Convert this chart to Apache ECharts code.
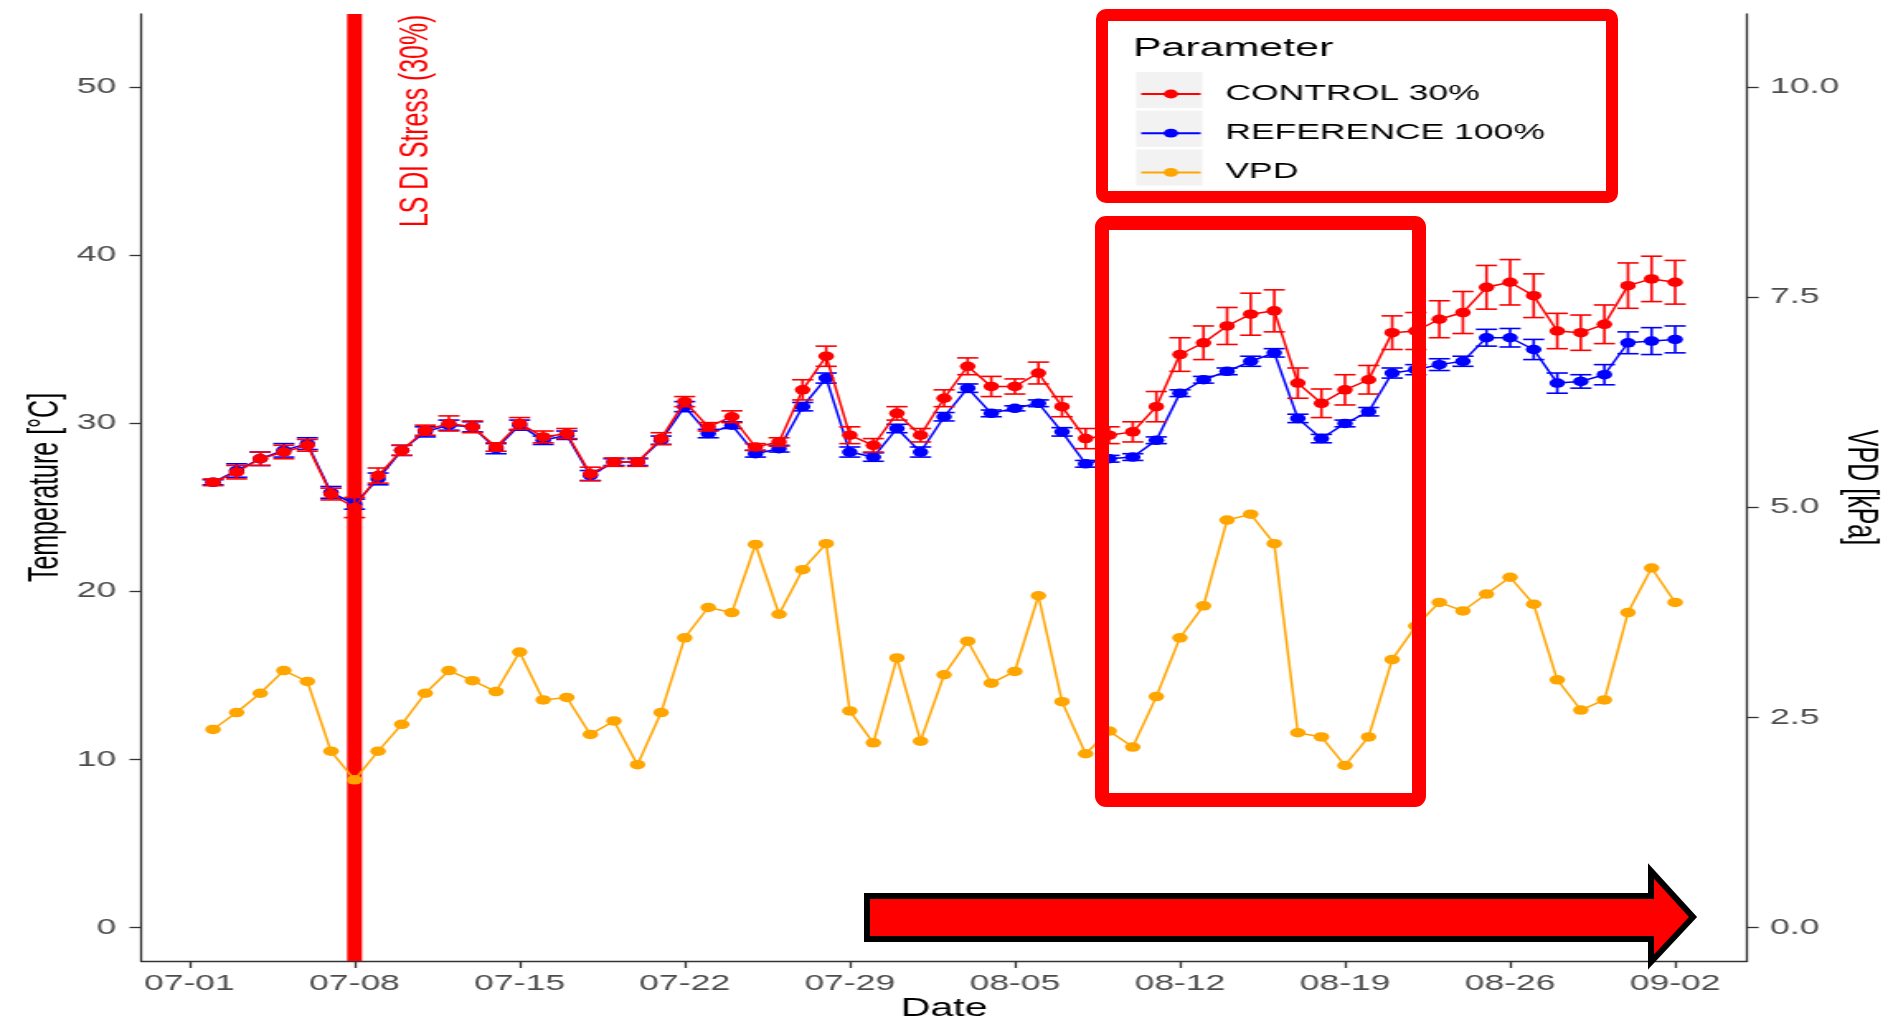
<!DOCTYPE html>
<html>
<head>
<meta charset="utf-8">
<script src="https://cdn.jsdelivr.net/npm/echarts@6/dist/echarts.min.js"></script>
<style>
  html, body { margin: 0; padding: 0; background: #ffffff; overflow: hidden; }
  #stage { position: relative; width: 1888px; height: 1028px; }
  /* the plot is laid out narrow and then widened, as in the exported figure */
  #chart { position: absolute; left: 0; top: 0; width: 1144px; height: 1028px;
           transform: scaleX(1.65035); transform-origin: 0 0; }
  #marks { position: absolute; left: 0; top: 0; width: 1888px; height: 1028px; pointer-events: none; }
</style>
</head>
<body>
<div id="stage">
  <div id="chart"></div>
  <div id="marks"></div>
</div>
<script>
// ---- data -----------------------------------------------------------------
const dates = [
  '07-02','07-03','07-04','07-05','07-06','07-07','07-08','07-09','07-10','07-11',
  '07-12','07-13','07-14','07-15','07-16','07-17','07-18','07-19','07-20','07-21',
  '07-22','07-23','07-24','07-25','07-26','07-27','07-28','07-29','07-30','07-31',
  '08-01','08-02','08-03','08-04','08-05','08-06','08-07','08-08','08-09','08-10',
  '08-11','08-12','08-13','08-14','08-15','08-16','08-17','08-18','08-19','08-20',
  '08-21','08-22','08-23','08-24','08-25','08-26','08-27','08-28','08-29','08-30',
  '08-31','09-01','09-02'
];

// leaf temperature, CONTROL 30% (mean and standard error, °C)
const controlMean = [
  26.5, 27.1, 27.9, 28.3, 28.7, 25.8, 25.0, 26.9, 28.4, 29.6,
  30.0, 29.8, 28.6, 30.0, 29.2, 29.4, 27.0, 27.7, 27.7, 29.1,
  31.3, 29.8, 30.4, 28.6, 28.9, 32.0, 34.0, 29.3, 28.7, 30.6,
  29.3, 31.5, 33.4, 32.2, 32.2, 33.0, 31.0, 29.1, 29.3, 29.5,
  31.0, 34.1, 34.8, 35.8, 36.5, 36.7, 32.4, 31.2, 32.0, 32.6,
  35.4, 35.5, 36.2, 36.6, 38.1, 38.4, 37.6, 35.5, 35.4, 35.9,
  38.2, 38.6, 38.4
];
const controlSE = [
  0.20, 0.40, 0.40, 0.40, 0.35, 0.35, 0.60, 0.45, 0.30, 0.30,
  0.45, 0.35, 0.25, 0.35, 0.35, 0.30, 0.40, 0.25, 0.25, 0.35,
  0.30, 0.25, 0.35, 0.20, 0.25, 0.60, 0.60, 0.50, 0.40, 0.40,
  0.40, 0.50, 0.50, 0.60, 0.45, 0.65, 0.60, 0.60, 0.50, 0.60,
  0.90, 1.00, 1.00, 1.10, 1.25, 1.25, 0.90, 0.85, 0.90, 0.85,
  1.00, 1.10, 1.10, 1.25, 1.30, 1.35, 1.30, 1.05, 1.05, 1.15,
  1.35, 1.35, 1.30
];

// leaf temperature, REFERENCE 100%
const referenceMean = [
  26.5, 27.2, 27.9, 28.4, 28.8, 25.9, 25.2, 26.7, 28.4, 29.5,
  29.9, 29.8, 28.5, 29.9, 29.0, 29.3, 26.9, 27.7, 27.7, 29.0,
  31.0, 29.4, 29.9, 28.2, 28.5, 31.0, 32.7, 28.3, 28.0, 29.7,
  28.3, 30.4, 32.1, 30.6, 30.9, 31.2, 29.5, 27.6, 27.9, 28.0,
  29.0, 31.8, 32.6, 33.1, 33.7, 34.2, 30.3, 29.1, 30.0, 30.7,
  33.0, 33.2, 33.5, 33.7, 35.1, 35.1, 34.4, 32.4, 32.5, 32.9,
  34.8, 34.9, 35.0
];
const referenceSE = [
  0.15, 0.40, 0.40, 0.40, 0.35, 0.35, 0.30, 0.35, 0.30, 0.30,
  0.30, 0.30, 0.30, 0.30, 0.25, 0.25, 0.30, 0.20, 0.20, 0.25,
  0.30, 0.25, 0.20, 0.20, 0.20, 0.25, 0.30, 0.30, 0.25, 0.25,
  0.30, 0.25, 0.25, 0.20, 0.15, 0.20, 0.25, 0.20, 0.20, 0.20,
  0.20, 0.20, 0.20, 0.20, 0.30, 0.25, 0.25, 0.25, 0.20, 0.25,
  0.30, 0.30, 0.35, 0.30, 0.50, 0.55, 0.60, 0.60, 0.40, 0.60,
  0.65, 0.80, 0.80
];

// vapour pressure deficit, kPa (right axis)
const vpd = [
  2.36, 2.56, 2.79, 3.06, 2.93, 2.10, 1.76, 2.10, 2.42, 2.79,
  3.06, 2.94, 2.81, 3.28, 2.71, 2.74, 2.30, 2.46, 1.94, 2.56,
  3.45, 3.81, 3.75, 4.56, 3.73, 4.26, 4.57, 2.58, 2.20, 3.21,
  2.22, 3.01, 3.41, 2.91, 3.05, 3.95, 2.69, 2.07, 2.34, 2.15,
  2.75, 3.45, 3.83, 4.85, 4.92, 4.57, 2.32, 2.27, 1.93, 2.27,
  3.19, 3.59, 3.87, 3.77, 3.97, 4.17, 3.85, 2.95, 2.59, 2.71,
  3.75, 4.28, 3.87
];

const dateTicks = ['07-01','07-08','07-15','07-22','07-29','08-05','08-12','08-19','08-26','09-02'];
const tempTicks = [0, 10, 20, 30, 40, 50];
const vpdTicks = [0, 2.5, 5, 7.5, 10];

const stressDates = ['07-08'];
const stressLabel = 'LS DI Stress (30%)';
const seriesNames = ['CONTROL 30%', 'REFERENCE 100%', 'VPD'];

// ---- helpers --------------------------------------------------------------
const FONT = '"Liberation Sans", Arial, Helvetica, sans-serif';
const RED = '#FF0000', BLUE = '#0000FF', ORANGE = '#FFA500';

function dayOf(md) {
  const [m, d] = md.split('-').map(Number);
  return (Date.UTC(2000, m - 1, d) - Date.UTC(2000, 6, 1)) / 864e5;
}
const days = dates.map(dayOf);
const tickDays = dateTicks.map(dayOf);

const points = vals => days.map((x, i) => [x, vals[i]]);
const bars = (mean, se) => days.map((x, i) => [x, mean[i] - se[i], mean[i] + se[i]]);

function errorBars(color) {
  return function (params, api) {
    const x = api.value(0);
    const lo = api.coord([x, api.value(1)]);
    const hi = api.coord([x, api.value(2)]);
    const half = api.size([0.9, 0])[0] / 2;   // cap width: 0.9 day
    const style = { stroke: color, lineWidth: 1.6, fill: 'transparent' };
    return {
      type: 'group',
      children: [
        { type: 'line', shape: { x1: hi[0], y1: hi[1], x2: lo[0], y2: lo[1] }, style },
        { type: 'line', shape: { x1: hi[0] - half, y1: hi[1], x2: hi[0] + half, y2: hi[1] }, style },
        { type: 'line', shape: { x1: lo[0] - half, y1: lo[1], x2: lo[0] + half, y2: lo[1] }, style }
      ]
    };
  };
}

const tickLabel = { color: '#4D4D4D', fontSize: 21.5, fontFamily: FONT };
const axisStroke = { color: '#333333', width: 1.3 };

// ---- chart ----------------------------------------------------------------
const chart = echarts.init(document.getElementById('chart'));

chart.setOption({
  backgroundColor: '#ffffff',
  animation: false,
  textStyle: { fontFamily: FONT },
  grid: { left: 85.5, right: 85.4, top: 14, bottom: 67, containLabel: false, outerBoundsMode: 'none' },
  title: {
    text: 'Parameter', left: 686.5, top: 36, padding: 0,
    textStyle: { color: '#000000', fontSize: 26, fontWeight: 'normal', fontFamily: FONT }
  },
  graphic: [0, 1, 2].map(i => ({
    type: 'rect', z: 0,
    shape: { x: 688.5, y: 72 + i * 38.7, width: 40, height: 36 },
    style: { fill: '#F2F2F2' }
  })),
  legend: {
    data: seriesNames,
    orient: 'vertical',
    left: 690.5, top: 83, padding: 0,
    itemWidth: 36, itemHeight: 11, itemGap: 17.2,
    selectedMode: false,
    textStyle: { color: '#000000', fontSize: 21.5, fontFamily: FONT, padding: [0, 0, 0, 10] }
  },
  xAxis: {
    type: 'value', min: -2.05, max: 66.05,
    name: 'Date', nameLocation: 'middle', nameGap: 36, nameMoveOverlap: false,
    nameTextStyle: { color: '#000000', fontSize: 25, fontFamily: FONT },
    axisLine: { show: true, onZero: false, lineStyle: axisStroke },
    axisTick: { show: true, customValues: tickDays, length: 7, lineStyle: axisStroke },
    axisLabel: Object.assign({
      customValues: tickDays, margin: 12,
      formatter: v => dateTicks[tickDays.indexOf(v)] || ''
    }, tickLabel),
    splitLine: { show: false }
  },
  yAxis: [
    {
      type: 'value', position: 'left', min: -1.98, max: 54.36,
      name: 'Temperature [°C]', nameLocation: 'middle', nameGap: 45, nameRotate: 90,
      nameMoveOverlap: false,
      nameTextStyle: { color: '#000000', fontSize: 25, fontFamily: FONT },
      axisLine: { show: true, onZero: false, lineStyle: axisStroke },
      axisTick: { show: true, customValues: tempTicks, length: 7, lineStyle: axisStroke },
      axisLabel: Object.assign({ customValues: tempTicks, margin: 15 }, tickLabel),
      splitLine: { show: false }
    },
    {
      type: 'value', position: 'right', min: -0.396, max: 10.872,
      name: 'VPD [kPa]', nameLocation: 'middle', nameGap: 56, nameRotate: -90,
      nameMoveOverlap: false,
      nameTextStyle: { color: '#000000', fontSize: 25, fontFamily: FONT },
      axisLine: { show: true, onZero: false, lineStyle: axisStroke },
      axisTick: { show: true, customValues: vpdTicks, length: 7, lineStyle: axisStroke },
      axisLabel: Object.assign({ customValues: vpdTicks, margin: 14, formatter: v => v.toFixed(1) }, tickLabel),
      splitLine: { show: false }
    }
  ],
  series: [
    {
      // start of the deficit-irrigation stress period
      name: 'stress', type: 'custom', z: 1, silent: true,
      data: stressDates.map(d => [dayOf(d), 48]),
      encode: { x: 0, y: 1 },
      renderItem: function (params, api) {
        const cs = params.coordSys;
        const p = api.coord([api.value(0), api.value(1)]);
        return {
          type: 'group',
          children: [
            { type: 'rect', shape: { x: p[0] - 4.5, y: cs.y, width: 9, height: cs.height },
              style: { fill: RED } },
            { type: 'text', x: p[0] + 37, y: p[1], rotation: Math.PI / 2,
              style: { text: stressLabel, fill: RED, font: '24.8px ' + FONT,
                       align: 'center', verticalAlign: 'middle' } }
          ]
        };
      }
    },
    {
      name: 'REFERENCE 100% SE', type: 'custom', z: 2, silent: true,
      data: bars(referenceMean, referenceSE),
      encode: { x: 0, y: [1, 2] },
      renderItem: errorBars(BLUE)
    },
    {
      name: 'REFERENCE 100%', type: 'line', z: 3, yAxisIndex: 0,
      data: points(referenceMean),
      symbol: 'circle', symbolSize: 9.5, showSymbol: true,
      lineStyle: { color: BLUE, width: 1.5 }, itemStyle: { color: BLUE }
    },
    {
      name: 'CONTROL 30% SE', type: 'custom', z: 4, silent: true,
      data: bars(controlMean, controlSE),
      encode: { x: 0, y: [1, 2] },
      renderItem: errorBars(RED)
    },
    {
      name: 'CONTROL 30%', type: 'line', z: 5, yAxisIndex: 0,
      data: points(controlMean),
      symbol: 'circle', symbolSize: 9.5, showSymbol: true,
      lineStyle: { color: RED, width: 1.5 }, itemStyle: { color: RED }
    },
    {
      name: 'VPD', type: 'line', z: 6, yAxisIndex: 1,
      data: points(vpd),
      symbol: 'circle', symbolSize: 9.5, showSymbol: true,
      lineStyle: { color: ORANGE, width: 1.5 }, itemStyle: { color: ORANGE }
    }
  ]
});

// ---- highlight frames and arrow drawn over the finished figure ------------
const marks = echarts.init(document.getElementById('marks'));
marks.setOption({
  animation: false,
  graphic: [
    { type: 'rect', shape: { x: 1102, y: 15, width: 510, height: 182, r: 4 },
      style: { fill: 'transparent', stroke: RED, lineWidth: 12 } },
    { type: 'rect', shape: { x: 1102, y: 223, width: 317, height: 577, r: 4 },
      style: { fill: 'transparent', stroke: RED, lineWidth: 14 } },
    { type: 'polygon',
      shape: { points: [[867, 896], [1651, 896], [1651, 871], [1693, 917], [1651, 962], [1651, 939], [867, 939]] },
      style: { fill: RED, stroke: '#000000', lineWidth: 6, lineJoin: 'miter' } }
  ]
});
</script>
</body>
</html>
